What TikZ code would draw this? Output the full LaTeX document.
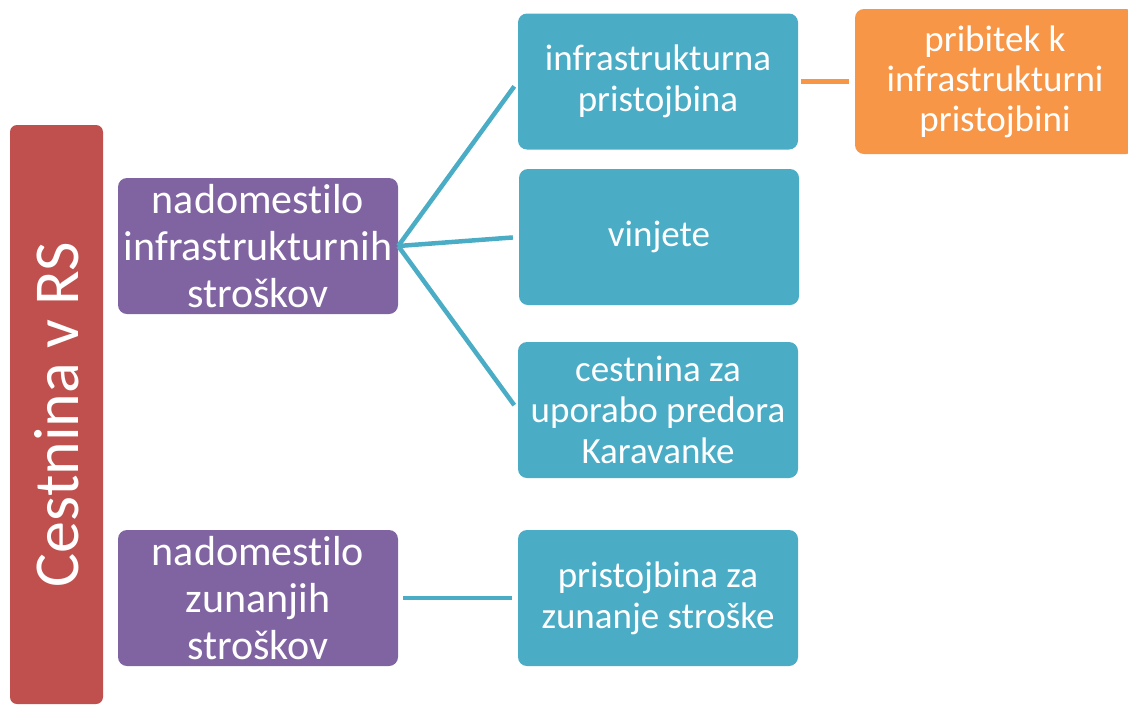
\documentclass[tikz,border=0pt]{standalone}
\usepackage{fontspec}
\setmainfont{Carlito}[Ligatures=NoCommon]
\usetikzlibrary{calc}

\definecolor{barred}{HTML}{C0504D}
\definecolor{boxpurple}{HTML}{8064A2}
\definecolor{boxblue}{HTML}{4BACC6}
\definecolor{boxorange}{HTML}{F79646}

\tikzset{
  box/.style={rounded corners=9pt, text=white, align=center,
    minimum width=280pt, minimum height=136pt, inner sep=0pt},
  cause/.style={box, fill=boxpurple, font=\fontsize{42}{47}\selectfont},
  fee/.style={box, fill=boxblue, font=\fontsize{37}{41}\selectfont},
  surcharge/.style={box, fill=boxorange, minimum height=145pt,
    font=\fontsize{37}{40}\selectfont},
  link/.style={line width=4.5pt, draw=boxblue, shorten >=6pt},
}

\begin{document}
\begin{tikzpicture}[x=1pt, y=-1pt]
    \useasboundingbox (0,0) rectangle (1128,705);

    % left bar
    \node[rounded corners=7pt, fill=barred, text=white, rotate=90,
          minimum width=579pt, minimum height=93pt, inner sep=0pt,
          font=\fontsize{64}{72}\selectfont] (rs) at (56.5,414.5) {Cestnina v RS};

    % level two
    \node[cause] (infra) at (258,246) {nadomestilo\\infrastrukturnih\\stroškov};
    \node[cause] (zunanji) at (258,598) {nadomestilo\\zunanjih\\stroškov};

    % level three
    \node[fee] (pristojbina) at (658,81.5) {infrastrukturna\\pristojbina};
    \node[fee] (vinjete) at (659,237) {vinjete};
    \node[fee] (karavanke) at (658,410) {cestnina za\\uporabo predora\\Karavanke};
    \node[fee] (zunanje) at (658,598) {pristojbina za\\zunanje stroške};
    \node[surcharge] (pribitek) at (995,81.5) {pribitek k\\infrastrukturni\\pristojbini};

    % connectors
    \draw[link] (infra.east) -- (pristojbina.west);
    \draw[link] (infra.east) -- (vinjete.west);
    \draw[link] (infra.east) -- (karavanke.west);
    \draw[link, shorten <=5pt] (zunanji.east) -- (zunanje.west);
    \draw[link, draw=boxorange, shorten <=3pt] (pristojbina.east) -- (pribitek.west);

\end{tikzpicture}
\end{document}
